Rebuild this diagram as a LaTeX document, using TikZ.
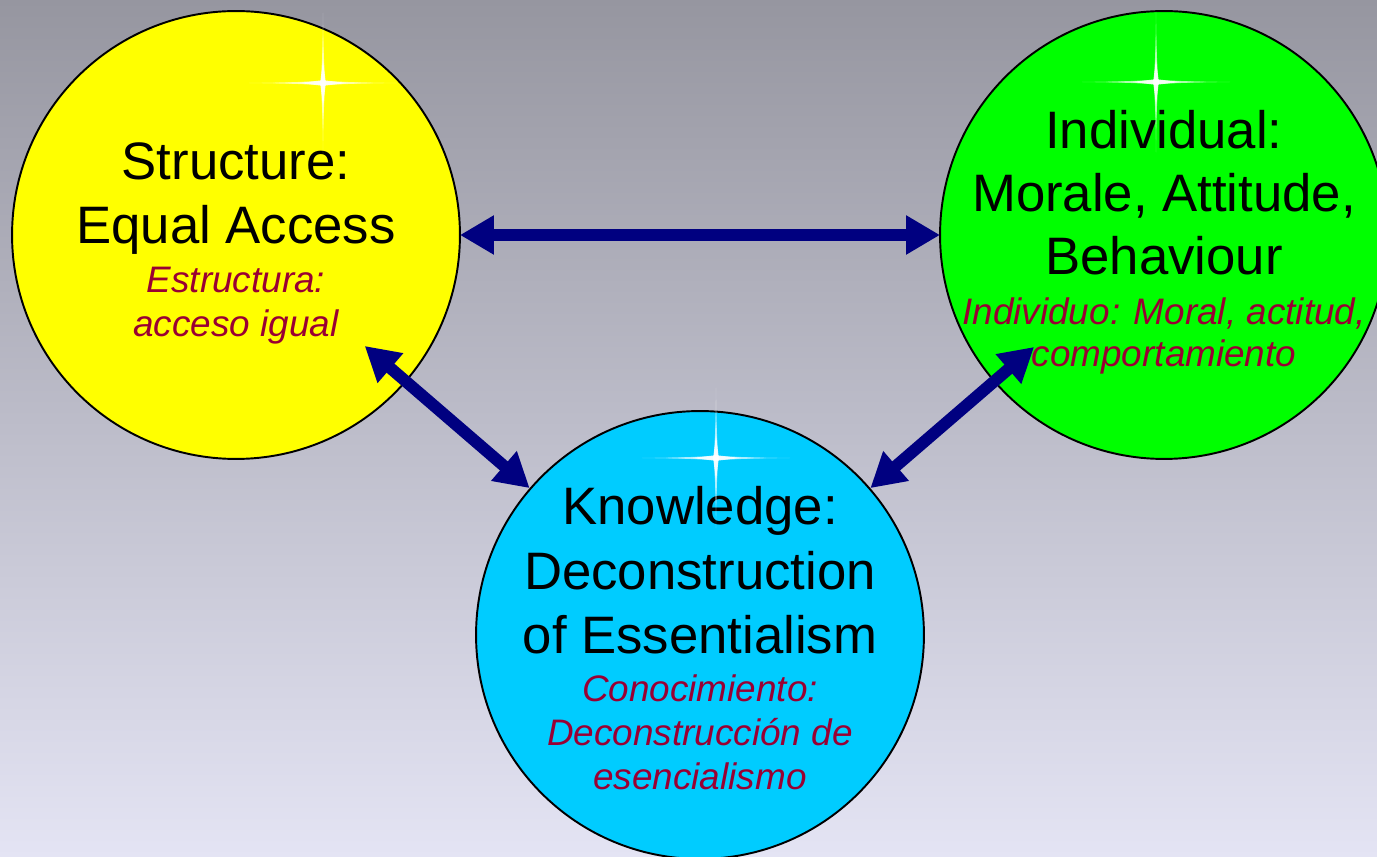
\documentclass[tikz,border=0pt]{standalone}
\usepackage{fontspec}
\setmainfont{Liberation Sans}
\usetikzlibrary{arrows.meta}
\definecolor{bgtop}{RGB}{150,150,160}
\definecolor{bgbot}{RGB}{228,228,244}
\definecolor{navyarrow}{RGB}{0,0,128}
\definecolor{spanred}{RGB}{153,0,51}
\definecolor{cyanfill}{RGB}{0,204,255}
\definecolor{greenfill}{RGB}{0,255,0}
\definecolor{yellowfill}{RGB}{255,255,0}
\tikzset{
  circ/.style={circle, draw=black, line width=1.1pt, minimum size=8.96cm, inner sep=0pt, outer sep=0pt},
  engl/.style={anchor=base, inner sep=0pt, font=\fontsize{30}{35}\selectfont, text=black},
  span/.style={anchor=base, inner sep=0pt, font=\fontsize{21}{25}\selectfont\itshape, text=spanred},
  dbl/.style={draw=navyarrow, line width=6.8pt,
    {Triangle[length=0.68cm, width=0.74cm]}-{Triangle[length=0.68cm, width=0.74cm]}},
  sparkle/.pic={
    \foreach \l/\w/\o in {74/1.4/0.35, 50/2/0.5, 25/2.8/0.85}{
      \fill[white, opacity=\o] (-\l,0) -- (0,-\w) -- (\l,0) -- (0,\w) -- cycle;
      \fill[white, opacity=\o] (0,-0.95*\l) -- (\w,0) -- (0,0.95*\l) -- (-\w,0) -- cycle;
    }
    \fill[white, opacity=0.75] (0,0) circle[radius=0.07cm];
  }
}
\begin{document}
\begin{tikzpicture}[x=0.02cm, y=-0.02cm]
\useasboundingbox (0,0) rectangle (1377,857);
\shade[top color=bgtop, bottom color=bgbot] (0,0) rectangle (1377,857);

\node[circ, fill=yellowfill] (s) at (236,235) {};
\node[circ, fill=greenfill] (i) at (1164,235) {};
\node[circ, fill=cyanfill] (k) at (700,635) {};

\draw[dbl] (s) -- (i);
\draw[dbl, shorten <=3.4cm, shorten >=4.5cm] (s.center) -- (k.center);
\draw[dbl, shorten <=4.5cm, shorten >=3.43cm] (k.center) -- (i.center);

% Structure
\node[engl] (s1) at (236,180) {Structure:};
\node[engl] (s2) at (236,244) {Equal Access};
\node[span] (s3) at (236,293) {Estructura:};
\node[span] (s4) at (236,337) {acceso igual};

% Individual
\node[engl] (i1) at (1164,149) {Individual:};
\node[engl] (i2) at (1164,212) {Morale, Attitude,};
\node[engl] (i3) at (1164,275) {Behaviour};
\node[span] (i4) at (1164,325) {Individuo: Moral, actitud,};
\node[span] (i5) at (1164,367) {comportamiento};

% Knowledge
\node[engl] (k1) at (700,525) {Knowledge:};
\node[engl] (k2) at (700,590) {Deconstruction};
\node[engl] (k3) at (700,654) {of Essentialism};
\node[span] (k4) at (700,702) {Conocimiento:};
\node[span] (k5) at (700,746) {Deconstrucción de};
\node[span] (k6) at (700,790) {esencialismo};

\pic at (323,83) {sparkle};
\pic at (1156,82) {sparkle};
\pic at (716,458) {sparkle};
\end{tikzpicture}
\end{document}
